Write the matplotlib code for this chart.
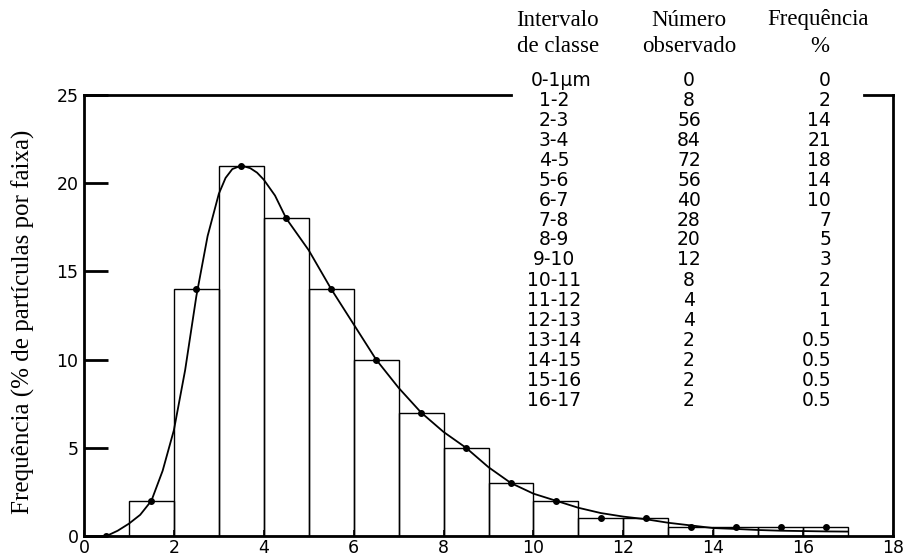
import numpy as np
import matplotlib
matplotlib.use("Agg")
import matplotlib.pyplot as plt

# histogram classes (um) and table values
intervalos = ["0-1\u03bcm", "1-2", "2-3", "3-4", "4-5", "5-6", "6-7", "7-8", "8-9",
              "9-10", "10-11", "11-12", "12-13", "13-14", "14-15", "15-16", "16-17"]
bin_left = np.arange(0, 17)
observado = [0, 8, 56, 84, 72, 56, 40, 28, 20, 12, 8, 4, 4, 2, 2, 2, 2]
freq = [0, 2, 14, 21, 18, 14, 10, 7, 5, 3, 2, 1, 1, 0.5, 0.5, 0.5, 0.5]
freq_txt = ["0", "2", "14", "21", "18", "14", "10", "7", "5", "3", "2", "1", "1",
            "0.5", "0.5", "0.5", "0.5"]

# smooth curve
curve_x = [0.5, 0.75, 1.0, 1.25, 1.5, 1.75, 2.0, 2.25, 2.5, 2.75, 3.0, 3.15, 3.3,
           3.5, 3.7, 3.85, 4.0, 4.25, 4.5, 5.0, 5.5, 6.0, 6.5, 7.0, 7.5, 8.0, 8.5,
           9.0, 9.5, 10.0, 10.5, 11.0, 11.5, 12.0, 12.5, 13.0, 13.5, 14.0, 14.5,
           15.0, 15.5, 16.0, 16.5, 17.0]
curve_y = [0.0, 0.3, 0.7, 1.2, 2.0, 3.7, 6.0, 9.4, 13.6, 17.0, 19.4, 20.3, 20.8,
           21.0, 20.85, 20.6, 20.2, 19.3, 18.0, 16.2, 14.0, 12.0, 10.0, 8.4, 7.0,
           5.9, 5.0, 3.9, 3.0, 2.4, 2.0, 1.6, 1.3, 1.1, 0.95, 0.75, 0.6, 0.45, 0.4,
           0.34, 0.3, 0.28, 0.26, 0.25]

W, H = 907, 559
fig = plt.figure(figsize=(W / 100, H / 100), dpi=100)
ax = fig.add_axes([84 / W, 1 - 536 / H, (893 - 84) / W, (536 - 95) / H])

ax.bar(bin_left, freq, width=1, align="edge", fill=False, edgecolor="black", lw=1.0)
ax.plot(curve_x, curve_y, color="black", lw=1.3)
mid = bin_left[1:] + 0.5
ax.plot([0.5], [0], "o", color="black", ms=4)
ax.plot(mid, freq[1:], "o", color="black", ms=4)

ax.set_xlim(0, 18)
ax.set_ylim(0, 25)
ax.set_xticks(range(0, 19, 2))
ax.set_yticks(range(0, 26, 5))
ax.tick_params(axis="y", direction="in", length=17, width=2, pad=4, labelsize=12.5)
ax.tick_params(axis="x", direction="in", length=4, width=1.2, pad=2, labelsize=12.5)
for s in ["left", "bottom", "right"]:
    ax.spines[s].set_linewidth(2)
ax.spines["top"].set_visible(False)
# top frame broken by the table
ax.plot([0, 9.5], [25, 25], color="black", lw=2, clip_on=False)
ax.plot([17.35, 18], [25, 25], color="black", lw=2, clip_on=False)

fig.text(23 / W, 1 - 322 / H, "Frequência (% de partículas por faixa)",
         rotation=90, ha="center", va="center", family="Liberation Serif", fontsize=18)

# table
serif = dict(family="Liberation Serif", fontsize=16.5, ha="center", va="center")
fig.text(557 / W, 1 - 20 / H, "Intervalo", **serif)
fig.text(558 / W, 1 - 47 / H, "de classe", **serif)
fig.text(689 / W, 1 - 20 / H, "Número", **serif)
fig.text(689 / W, 1 - 47 / H, "observado", **serif)
fig.text(818 / W, 1 - 20 / H, "Frequência", **serif)
fig.text(820 / W, 1 - 47 / H, "%", **serif)

for i in range(len(intervalos)):
    yy = 1 - (80 + 20 * i) / H
    if i == 0:
        fig.text(531 / W, yy, intervalos[i], ha="left", va="center", fontsize=13.5)
    else:
        fig.text(554 / W, yy, intervalos[i], ha="center", va="center", fontsize=13.5)
    fig.text(689 / W, yy, str(observado[i]), ha="center", va="center", fontsize=13.5)
    fig.text(831 / W, yy, freq_txt[i], ha="right", va="center", fontsize=13.5)

fig.savefig("out.png", dpi=100)
